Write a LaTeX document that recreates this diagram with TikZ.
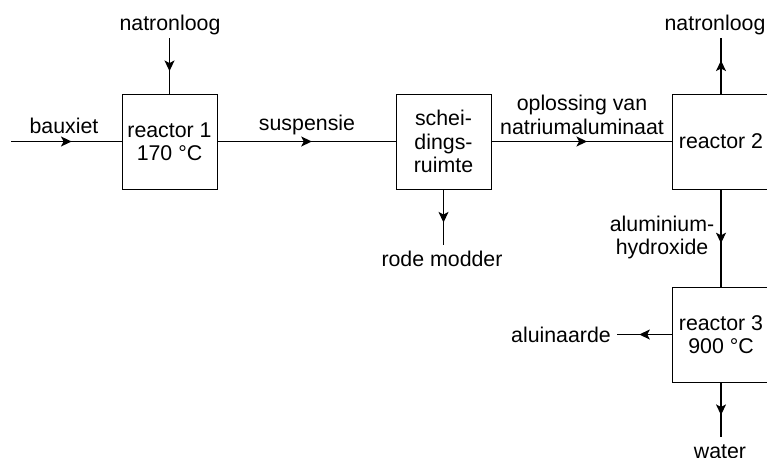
\documentclass[tikz,border=0pt]{standalone}
\usepackage{fontspec}
\setmainfont{Liberation Sans}
\usetikzlibrary{arrows.meta,decorations.markings,positioning}

\tikzstyle{unit}=[draw,line width=0.65pt,minimum width=71.25pt,minimum height=71.25pt,inner sep=0pt,align=center]
\tikzstyle{stream}=[line width=0.9pt,postaction={decorate},decoration={markings,mark=at position 0.5 with {\arrow[xshift=4pt]{Stealth[length=8pt,width=7.5pt,inset=2pt]}}}]
\tikzstyle{lbl}=[inner sep=0pt,align=center]

\begin{document}
\begin{tikzpicture}[x=0.75pt,y=-0.75pt,font=\fontsize{16}{17.6}\selectfont]
	\useasboundingbox (0,0) rectangle (767,457);
	% units
	\node[unit] (r1) at (169.5,141.5) {reactor 1\\170 °C};
	\node[unit] (sch) at (443.5,141.5) {schei-\\dings-\\ruimte};
	\node[unit,minimum width=72.75pt] (r2) at (721,141.5) {reactor 2};
	\node[unit,minimum width=72.75pt] (r3) at (721,334.5) {reactor 3\\900 °C};
	% free ends
	\coordinate (bx) at (11,141.5);
	\coordinate (nl1) at (169.5,38);
	\coordinate (rm) at (443.5,245);
	\coordinate (nl2) at (721,38);
	\coordinate (al) at (617,334.5);
	\coordinate (wa) at (721,437);
	% streams
	\draw[stream] (bx) -- (r1);
	\draw[stream] (nl1) -- (r1);
	\draw[stream] (r1) -- (sch);
	\draw[stream] (sch) -- (rm);
	\draw[stream] (sch) -- (r2);
	\draw[stream] (r2) -- (nl2);
	\draw[stream] (r2) -- (r3);
	\draw[stream] (r3) -- (al);
	\draw[stream] (r3) -- (wa);
	% labels
	\node[lbl] (bauxiet) at (64,126) {bauxiet};
	\node[lbl] (natron1) at (170,25) {natronloog};
	\node[lbl] (susp) at (307,125) {suspensie};
	\node[lbl] (oplos) at (582,115) {oplossing van\\natriumaluminaat};
	\node[lbl] (modder) at (442,259) {rode modder};
	\node[lbl] (natron2) at (715,25) {natronloog};
	\node[lbl] (hydrox) at (662,237.5) {aluminium-\\hydroxide};
	\node[lbl] (aluin) at (561,335) {aluinaarde};
	\node[lbl,anchor=north] (water) at (720,444) {water};
\end{tikzpicture}
\end{document}
